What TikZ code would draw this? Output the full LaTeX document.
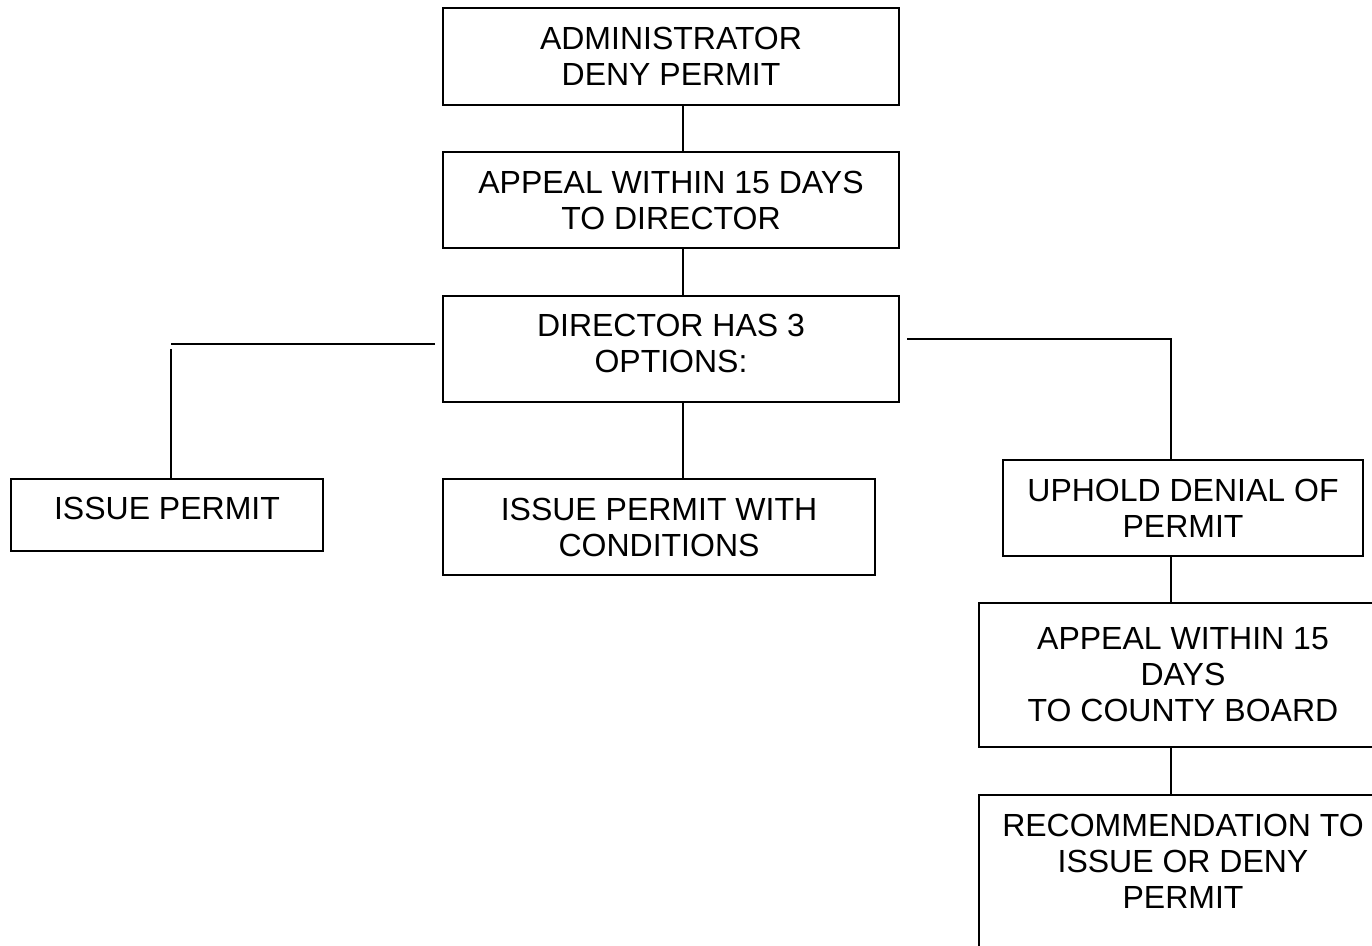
\documentclass[tikz,border=0pt]{standalone}
\usepackage{fontspec}
\setmainfont{Liberation Sans}
\usetikzlibrary{positioning}
\tikzset{box/.style={draw=black, line width=1pt, rectangle, inner sep=0pt, outer sep=0pt,
		align=center, font=\fontsize{16}{18}\selectfont},
	link/.style={draw=black, line width=1pt}}

\begin{document}
\begin{tikzpicture}[x=0.5pt, y=-0.5pt]
\useasboundingbox (0,0) rectangle (1372,946);
\clip (0,0) rectangle (1372,946);

% top column
\node[box, minimum width=228pt, minimum height=48.5pt] (admin) at (671,56.5) {ADMINISTRATOR\\DENY PERMIT};
\node[box, minimum width=228pt, minimum height=48pt] (appeal) at (671,200) {APPEAL WITHIN 15 DAYS\\TO DIRECTOR};
\node[box, minimum width=228pt, minimum height=53pt] (dir) at (671,349) {DIRECTOR HAS 3\\OPTIONS:\\[-12pt]};

% options
\node[box, minimum width=156pt, minimum height=36pt] (issue) at (167,515) {ISSUE PERMIT\\[-11pt]};
\node[box, minimum width=216pt, minimum height=48pt] (cond) at (659,527) {ISSUE PERMIT WITH\\CONDITIONS};
\node[box, minimum width=180pt, minimum height=48pt] (uphold) at (1183,508) {UPHOLD DENIAL OF\\PERMIT};

% county board
\node[box, minimum width=204pt, minimum height=72pt] (county) at (1183,675) {APPEAL WITHIN 15\\DAYS\\TO COUNTY BOARD};
\node[box, minimum width=204pt, minimum height=100pt, anchor=north] (rec) at (1183,795) {RECOMMENDATION TO\\ISSUE OR DENY\\PERMIT\\[16pt]};

% connectors
\coordinate (spine) at (683,0);
\coordinate (lefttee) at (171,344);
\coordinate (righttee) at (1171,339);
\draw[link] (admin.south -| spine) -- (appeal.north -| spine);
\draw[link] (appeal.south -| spine) -- (dir.north -| spine);
\draw[link] (dir.south -| spine) -- (cond.north -| spine);
\draw[link] (lefttee -| dir.west) ++(-8,0) -- (lefttee);
\draw[link] (lefttee) ++(0,5) -- (issue.north -| lefttee);
\draw[link] (righttee -| dir.east) ++(8,0) -- (righttee) -- (uphold.north -| righttee);
\draw[link] (uphold.south -| righttee) -- (county.north -| righttee);
\draw[link] (county.south -| righttee) -- (rec.north -| righttee);
\end{tikzpicture}
\end{document}
